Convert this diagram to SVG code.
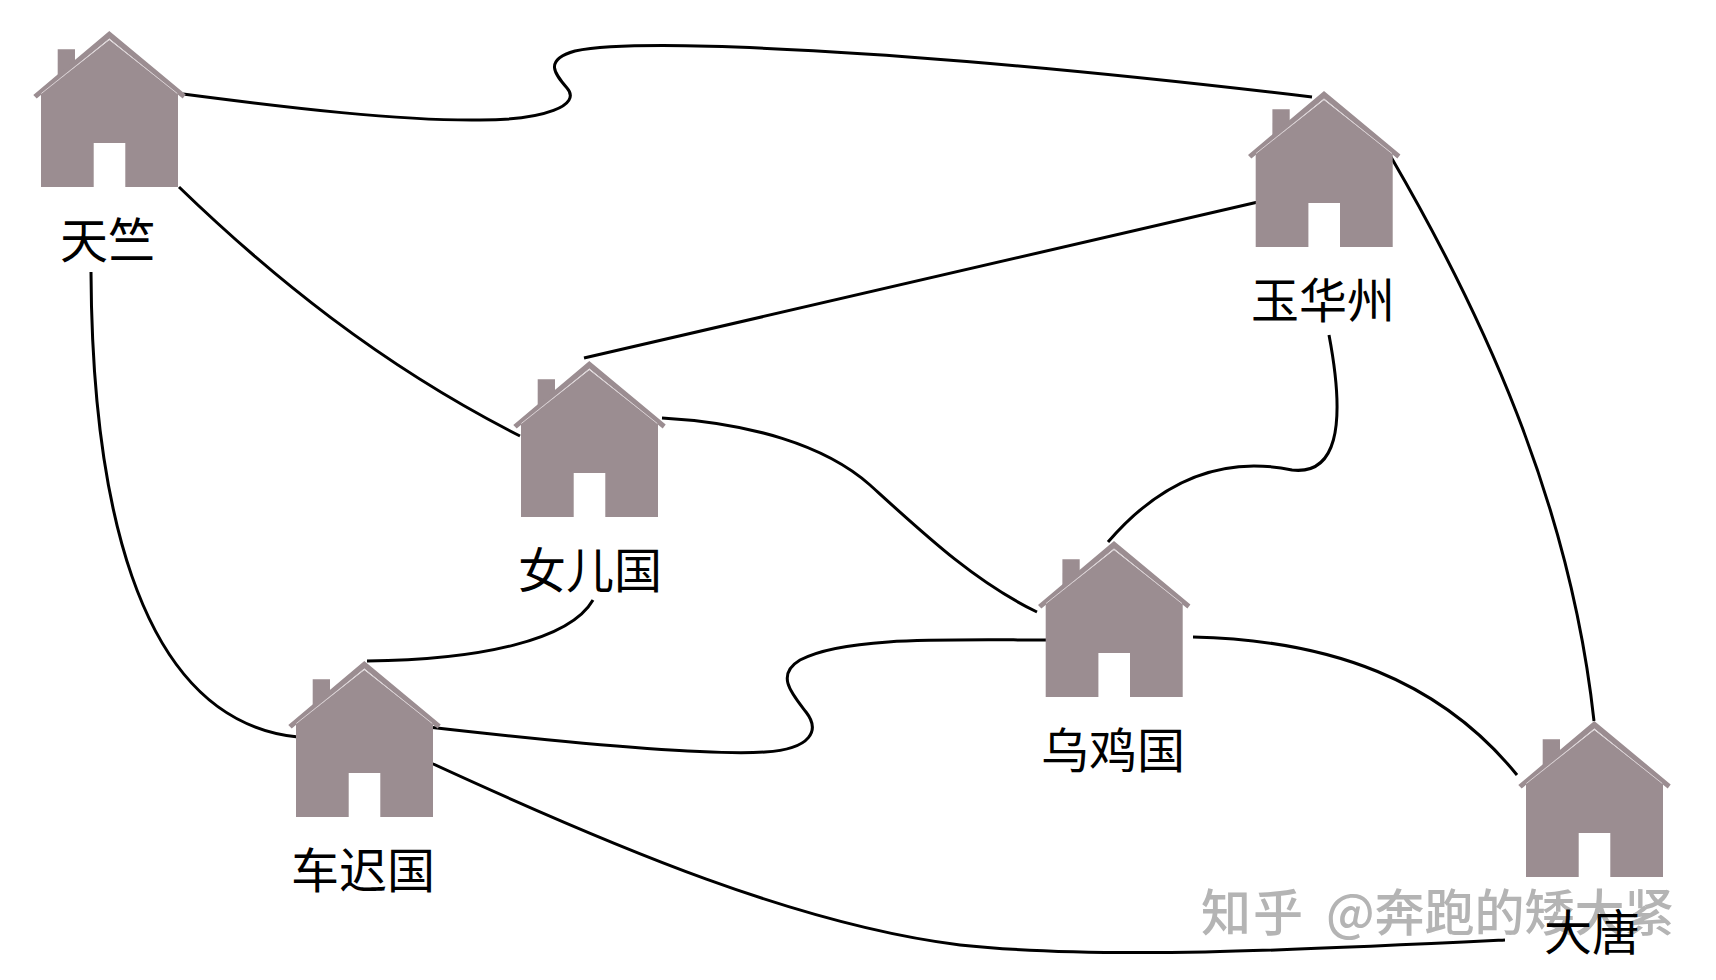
<svg xmlns="http://www.w3.org/2000/svg" width="1716" height="980" viewBox="0 0 1716 980">
<style>
.c{fill:none;stroke:#000;stroke-width:3;stroke-linecap:butt}
.b{fill:#9b8d91}
.g{fill:none;stroke:#d9d0d3;stroke-width:1}
.t{font-family:"Noto Sans CJK SC","Liberation Sans",sans-serif;font-size:48px;fill:#000;text-anchor:middle}
.w{font-family:"Noto Sans CJK SC","Liberation Sans",sans-serif;font-size:50px;font-weight:500;fill:#b4b4b4}
</style>
<defs>
<g id="house">
<path class="b" d="M-68.3,63L0,9L68.7,63V156H16V112H-15.6V156H-68.3Z"/>
<path class="b" d="M-51.6,18.3H-34.3V32L-51.6,46Z"/>
<path class="b" d="M0,0L76.4,63.5L73.4,67.5L0,7.6L-72.6,67.5L-76,64Z"/>
<path class="g" d="M-68,62.5L0,8.2L68,62.5"/>
</g>
</defs>
<rect width="1716" height="980" fill="#fff"/>
<g id="connectors">
<path class="c" d="M183,94C290,108 400,121 480,120C545,120 582,105 567,88C555,74 543,60 575,51C640,38 900,48 1312,97"/>
<path class="c" d="M179,187C270,275 380,365 520,436"/>
<path class="c" d="M91,272C92,480 130,720 298,737"/>
<path class="c" d="M584,358L1258,202"/>
<path class="c" d="M662,418C750,423 825,445 870,485C925,535 975,582 1037,612"/>
<path class="c" d="M1329,335C1347,430 1335,475 1292,470C1235,458 1170,470 1108,542"/>
<path class="c" d="M1391,157C1480,310 1570,500 1594,721"/>
<path class="c" d="M593,600C570,640 480,660 367,661"/>
<path class="c" d="M428,727C560,742 700,756 765,752C812,749 820,730 806,712C792,694 775,675 800,660C845,636 950,640 1052,640"/>
<path class="c" d="M1193,637C1330,640 1440,680 1517,775"/>
<path class="c" d="M431,763C620,850 800,925 960,945C1100,960 1300,950 1505,940"/>
</g>
<g id="n-tianzhu"><use href="#house" x="109.3" y="31"/><text class="t" x="108" y="258">天竺</text></g>
<g id="n-yuhuazhou"><use href="#house" x="1324" y="91"/><text class="t" x="1323" y="318">玉华州</text></g>
<g id="n-nverguo"><use href="#house" x="589.3" y="361"/><text class="t" x="590" y="588">女儿国</text></g>
<g id="n-wujiguo"><use href="#house" x="1114" y="541"/><text class="t" x="1113" y="768">乌鸡国</text></g>
<g id="n-chechiguo"><use href="#house" x="364.3" y="661"/><text class="t" x="363" y="888">车迟国</text></g>
<g id="n-datang"><use href="#house" x="1594.3" y="721"/></g>
<text class="w" y="931"><tspan x="1201" letter-spacing="2">知乎</tspan> <tspan x="1326">@奔跑的矮大紧</tspan></text>
<text class="t" x="1592" y="950">大唐</text>
</svg>
